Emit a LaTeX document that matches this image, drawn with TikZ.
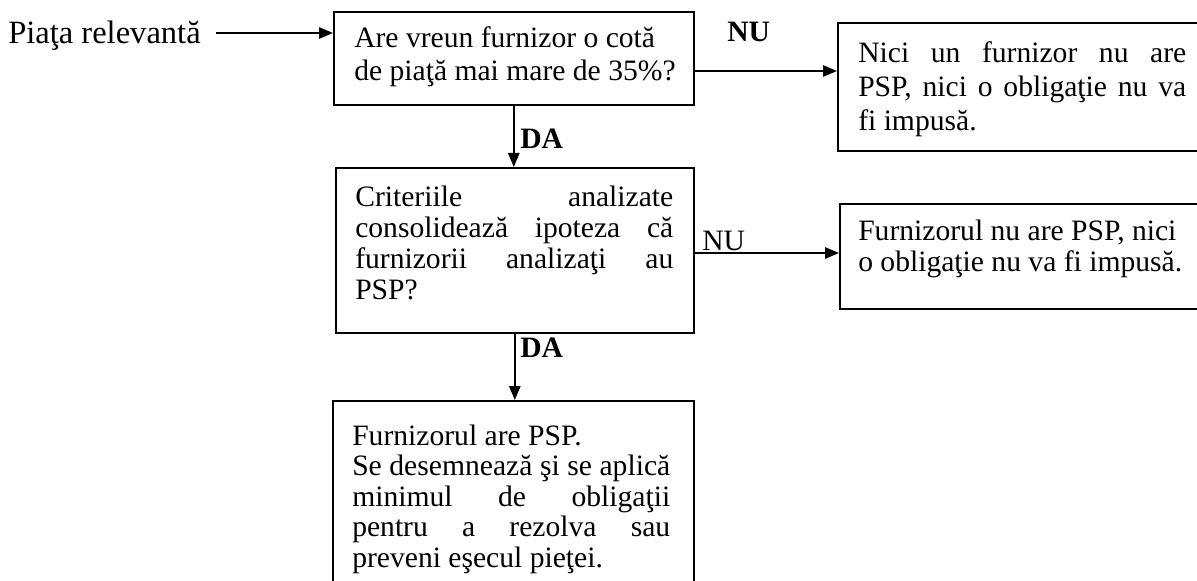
\documentclass[tikz,border=0pt]{standalone}
\usepackage{fontspec}
\setmainfont{Liberation Serif}
\usetikzlibrary{arrows.meta}
\begin{document}
\begin{tikzpicture}[x=0.75pt,y=-0.75pt,
  box/.style={draw, line width=1.2pt, inner sep=0pt, anchor=north west},
  txt/.style={inner sep=0pt, anchor=base west, font=\fontsize{22.2}{26}\selectfont},
  lbl/.style={inner sep=0pt, anchor=base west, font=\fontsize{22.2}{26}\selectfont},
  biglbl/.style={inner sep=0pt, anchor=base west, font=\fontsize{24.4}{28}\selectfont},
  conn/.style={line width=1.3pt, -{Triangle[length=10.5pt,width=8.5pt]}}]
\useasboundingbox (0,0) rectangle (1197,581);
\clip (0,0) rectangle (1197,581);
% boxes
\node[box, minimum width=270pt, minimum height=69.75pt] (b1) at (333,11) {};
\node[box, minimum width=268.5pt, minimum height=123.75pt] (b2) at (335,167) {};
\node[box, minimum width=279.75pt, minimum height=96pt] (b3) at (837,22) {};
\node[box, minimum width=278.25pt, minimum height=78.75pt] (b4) at (839,203) {};
\node[box, minimum width=270.75pt, minimum height=144pt] (b5) at (332,400) {};
% input label
\node[biglbl] (pr) at (8,44) {Piaţa relevantă};
\coordinate (in) at (216,33);
\draw[conn] (in) -- (in -| b1.west);
% box 1 text
\node[txt] (t1a) at (354,48) {Are vreun furnizor o cotă};
\node[txt] (t1b) at (354,81) {de piaţă mai mare de 35\%?};
% box 3 text
\node[txt] (t3a) at (858,63) {\makebox[246pt][s]{Nici un furnizor nu are}};
\node[txt] (t3b) at (858,97) {\makebox[246pt][s]{PSP, nici o obligaţie nu va}};
\node[txt] (t3c) at (858,131) {fi impusă.};
% box 2 text
\node[txt] (t2a) at (355,207) {\makebox[238.5pt][s]{Criteriile analizate}};
\node[txt] (t2b) at (355,238) {\makebox[238.5pt][s]{consolidează ipoteza că}};
\node[txt] (t2c) at (355,269) {\makebox[238.5pt][s]{furnizorii analizaţi au}};
\node[txt] (t2d) at (355,300) {PSP?};
% box 4 text
\node[txt] (t4a) at (858,241) {Furnizorul nu are PSP, nici};
\node[txt] (t4b) at (858,272) {o obligaţie nu va fi impusă.};
% box 5 text
\node[txt] (t5a) at (352,445) {Furnizorul are PSP.};
\node[txt] (t5b) at (352,475.5) {\makebox[238.5pt][s]{Se desemnează şi se aplică}};
\node[txt] (t5c) at (352,506) {\makebox[238.5pt][s]{minimul de obligaţii}};
\node[txt] (t5d) at (352,536.5) {\makebox[238.5pt][s]{pentru a rezolva sau}};
\node[txt] (t5e) at (352,567) {preveni eşecul pieţei.};
% connectors
\coordinate (n1) at (693,71);
\draw[conn] (n1) -- (n1 -| b3.west);
\node[lbl] (nu1) at (727,42) {\textbf{NU}};
\draw[conn] (b1.south) -- (b1.south |- b2.north);
\node[lbl] (da1) at (520,149) {\textbf{DA}};
\coordinate (n2) at (693,253);
\draw[conn] (n2) -- (n2 -| b4.west);
\node[lbl] (nu2) at (702,251) {NU};
\draw[conn] (b2.south) -- (b2.south |- b5.north);
\node[lbl] (da2) at (520,357) {\textbf{DA}};
\end{tikzpicture}
\end{document}
